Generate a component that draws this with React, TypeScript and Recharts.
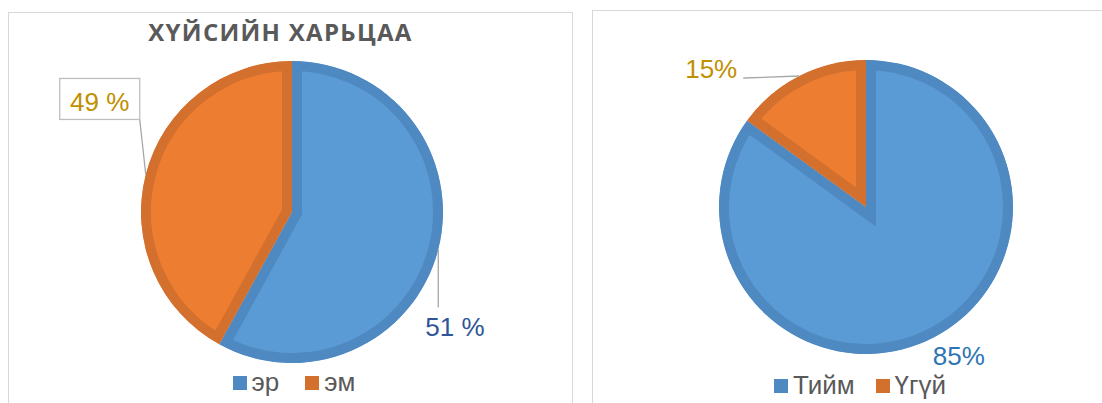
import React from 'react';
import { PieChart, Pie, Cell, Legend } from 'recharts';

// ---------- data ----------
const chartTitle = 'ХҮЙСИЙН ХАРЬЦАА';

const genderCategories = ['эр', 'эм'];
const genderValues = [58, 42];
const genderLabels = ['51 %', '49 %'];

const answerCategories = ['Тийм', 'Үгүй'];
const answerValues = [85, 15];
const answerLabels = ['85%', '15%'];

// ---------- styles ----------
const FILLS = ['#5B9BD5', '#ED7D31'];
const BORDERS = ['#4F89C1', '#D4702E'];
const BORDER_W = 10;
const LABEL_FONT = '"Liberation Sans", Arial, sans-serif';

const genderData = genderCategories.map((name, i) => ({ name, value: genderValues[i], label: genderLabels[i] }));
const answerData = answerCategories.map((name, i) => ({ name, value: answerValues[i], label: answerLabels[i] }));

const RAD = Math.PI / 180;
const polar = (cx: number, cy: number, r: number, a: number) => ({
  x: cx + r * Math.cos(-a * RAD),
  y: cy + r * Math.sin(-a * RAD),
});

function sectorPath(cx: number, cy: number, r: number, a0: number, a1: number) {
  const p0 = polar(cx, cy, r, a0);
  const p1 = polar(cx, cy, r, a1);
  const large = Math.abs(a1 - a0) > 180 ? 1 : 0;
  const sweep = a1 < a0 ? 1 : 0;
  return `M${cx},${cy} L${p0.x},${p0.y} A${r},${r} 0 ${large} ${sweep} ${p1.x},${p1.y} Z`;
}

const makeShape = (prefix: string) => (props: any) => {
  const { cx, cy, outerRadius, startAngle, endAngle, fill, stroke, index } = props;
  const d = sectorPath(cx, cy, outerRadius, startAngle, endAngle);
  const id = `${prefix}-clip-${index ?? Math.round(startAngle)}`;
  return (
    <g>
      <defs>
        <clipPath id={id}>
          <path d={d} />
        </clipPath>
      </defs>
      <path d={d} fill={fill} stroke={stroke} strokeWidth={BORDER_W * 2} strokeLinejoin="miter" clipPath={`url(#${id})`} />
    </g>
  );
};

// label placement (offsets from the slice's outer mid point)
type Place = {
  leader?: [number, number];
  textDx: number;
  textDy: number;
  anchor: 'start' | 'middle' | 'end';
  color: string;
  box?: { w: number; h: number };
};

const genderPlaces: Place[] = [
  { leader: [0, 58], textDx: -13, textDy: 86, anchor: 'start', color: '#2F5597' },
  { leader: [-6, -55], textDx: -46, textDy: -63, anchor: 'middle', color: '#BF9000', box: { w: 80, h: 41 } },
];
const answerPlaces: Place[] = [
  { textDx: 0, textDy: 27, anchor: 'start', color: '#2E75B6' },
  { leader: [-56, 2], textDx: -62, textDy: 2, anchor: 'end', color: '#BF9000' },
];

const makeLabel = (places: Place[]) => (props: any) => {
  const { cx, cy, midAngle, outerRadius, index, payload } = props;
  const pl = places[index];
  const e = polar(cx, cy, outerRadius, midAngle);
  const text = payload?.label ?? props.label;
  const lx = pl.leader ? e.x + pl.leader[0] : e.x;
  const ly = pl.leader ? e.y + pl.leader[1] : e.y;
  return (
    <g key={`lbl-${index}`}>
      {pl.leader && <line x1={e.x} y1={e.y} x2={lx} y2={ly} stroke="#A6A6A6" strokeWidth={1.3} />}
      {pl.box && (
        <rect x={lx - pl.box.w} y={ly - pl.box.h} width={pl.box.w} height={pl.box.h} fill="#fff" stroke="#BFBFBF" strokeWidth={1.3} />
      )}
      <text
        x={e.x + pl.textDx}
        y={e.y + pl.textDy}
        textAnchor={pl.anchor}
        fill={pl.color}
        fontSize={26}
        fontFamily={LABEL_FONT}
      >
        {text}
      </text>
    </g>
  );
};

const makeLegend = (categories: string[], gap: number) => (props: any) => {
  const payload = [...(props.payload || [])].sort(
    (a: any, b: any) => categories.indexOf(a.value) - categories.indexOf(b.value)
  );
  return (
    <div
      style={{
        display: 'flex',
        justifyContent: 'center',
        alignItems: 'center',
        fontFamily: LABEL_FONT,
        fontSize: 26,
        lineHeight: '30px',
        color: '#595959',
      }}
    >
      {payload.map((p: any, i: number) => (
        <div key={i} style={{ display: 'flex', alignItems: 'center', marginLeft: i === 0 ? 0 : gap }}>
          <span
            style={{
              display: 'inline-block',
              width: 14,
              height: 14,
              background: BORDERS[categories.indexOf(p.value)],
              marginRight: 5,
              marginTop: 1,
            }}
          />
          <span>{p.value}</span>
        </div>
      ))}
    </div>
  );
};

const panelStyle = (left: number, top: number, width: number): React.CSSProperties => ({
  position: 'absolute',
  left,
  top,
  width,
  height: 440,
  border: '1px solid #D9D9D9',
  boxSizing: 'border-box',
  background: '#fff',
});

export default function App() {
  return (
    <div style={{ position: 'absolute', left: 0, top: 0, width: 1102, height: 403, overflow: 'hidden', background: '#fff' }}>
      {/* left panel */}
      <div style={panelStyle(8, 12, 565)}>
        <div
          style={{
            position: 'absolute',
            left: 0,
            top: 7,
            width: 543,
            textAlign: 'center',
            fontFamily: '"Open Sans", sans-serif',
            fontWeight: 700,
            fontSize: 24,
            lineHeight: '24px',
            letterSpacing: 1.3,
            color: '#595959',
            whiteSpace: 'nowrap',
          }}
        >
          {chartTitle}
        </div>
        <div style={{ position: 'absolute', left: 0, top: 0 }}>
          <PieChart width={562} height={400} margin={{ top: 0, right: 0, bottom: 0, left: 0 }}>
            <Pie
              data={genderData}
              dataKey="value"
              nameKey="name"
              cx={283}
              cy={199}
              outerRadius={151}
              startAngle={90}
              endAngle={-270}
              isAnimationActive={false}
              shape={makeShape('g')}
              label={makeLabel(genderPlaces)}
              labelLine={false}
            >
              {genderData.map((_, i) => (
                <Cell key={i} fill={FILLS[i]} stroke={BORDERS[i]} />
              ))}
            </Pie>
            <Legend
              content={makeLegend(genderCategories, 26)}
              wrapperStyle={{ position: 'absolute', top: 354, left: 0, width: 570, bottom: 'auto' }}
            />
          </PieChart>
        </div>
      </div>

      {/* right panel */}
      <div style={panelStyle(592, 10, 600)}>
        <div style={{ position: 'absolute', left: 0, top: 0 }}>
          <PieChart width={520} height={400} margin={{ top: 0, right: 0, bottom: 0, left: 0 }}>
            <Pie
              data={answerData}
              dataKey="value"
              nameKey="name"
              cx={273}
              cy={196}
              outerRadius={147}
              startAngle={90}
              endAngle={-270}
              isAnimationActive={false}
              shape={makeShape('a')}
              label={makeLabel(answerPlaces)}
              labelLine={false}
            >
              {answerData.map((_, i) => (
                <Cell key={i} fill={FILLS[i]} stroke={BORDERS[i]} />
              ))}
            </Pie>
            <Legend
              content={makeLegend(answerCategories, 21)}
              wrapperStyle={{ position: 'absolute', top: 359, left: 0, width: 534, bottom: 'auto' }}
            />
          </PieChart>
        </div>
      </div>
    </div>
  );
}
